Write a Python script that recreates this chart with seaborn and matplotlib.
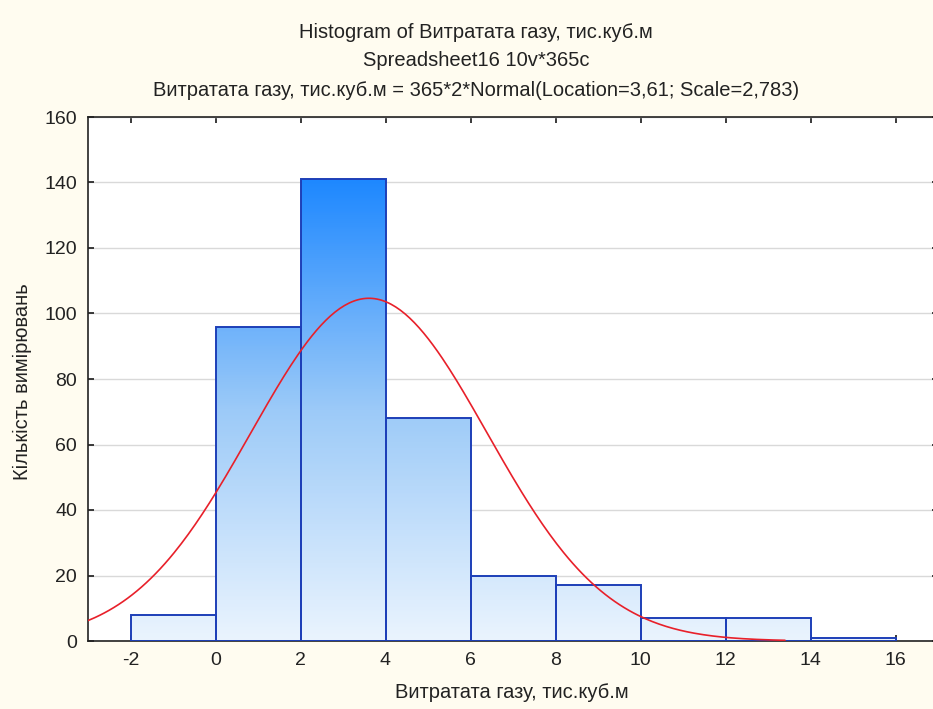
import numpy as np
import pandas as pd
import matplotlib
matplotlib.use("Agg")
import matplotlib.pyplot as plt
import seaborn as sns
from matplotlib.colors import LinearSegmentedColormap

# ── data ────────────────────────────────────────────────────────────────────
bin_edges = [-2, 0, 2, 4, 6, 8, 10, 12, 14, 16]
counts = [8, 96, 141, 68, 20, 17, 7, 7, 1]
n_obs = 365
bin_width = 2
location = 3.61
scale = 2.783
curve_span = (-3.0, 13.4)

title_lines = [
    "Histogram of Витратата газу, тис.куб.м",
    "Spreadsheet16 10v*365c",
    "Витратата газу, тис.куб.м = 365*2*Normal(Location=3,61; Scale=2,783)",
]
x_label = "Витратата газу, тис.куб.м"
y_label = "Кількість вимірювань"

sns.set_theme(style="white")
plt.rcParams["font.family"] = ["Liberation Sans", "DejaVu Sans"]
plt.rcParams["axes.unicode_minus"] = False

fig = plt.figure(figsize=(9.33, 7.09), dpi=100, facecolor="#fffcf0")
W, H = 933, 709
ax = fig.add_axes([88 / W, (H - 641) / H, 850 / W, (641 - 117) / H])
ax.set_facecolor("white")

centers = [(a + b) / 2 for a, b in zip(bin_edges[:-1], bin_edges[1:])]
df = pd.DataFrame({"x": centers, "n": counts})
sns.histplot(data=df, x="x", weights="n", bins=bin_edges, ax=ax,
             stat="count", element="bars", fill=True,
             facecolor="none", edgecolor="#1d3fb8", linewidth=1.4, zorder=3)

# gradient fill, common to all bars (by height on the axis)
cmap = LinearSegmentedColormap.from_list("g", ["#eaf4fe", "#9ccaf8", "#1e88ff"])
grad = np.linspace(0, 1, 256).reshape(-1, 1)
for p in ax.patches:
    im = ax.imshow(grad * 160 / 141, cmap=cmap, vmin=0, vmax=1, aspect="auto",
                   origin="lower", extent=[-3, 17, 0, 160], zorder=2)
    im.set_clip_path(p)
ax.set_xlim(-3, 17)
ax.set_ylim(0, 160)

# fitted normal curve as stated in the title
xs = np.linspace(curve_span[0], curve_span[1], 300)
ys = n_obs * bin_width * np.exp(-0.5 * ((xs - location) / scale) ** 2) / (scale * np.sqrt(2 * np.pi))
sns.lineplot(x=xs, y=ys, ax=ax, color="#e8202a", linewidth=1.2, zorder=4)

ax.set_xticks(range(-2, 17, 2))
ax.set_yticks(range(0, 161, 20))
ax.yaxis.grid(True, color="#d9d9d9", linewidth=1)
ax.set_axisbelow(True)
ax.tick_params(axis="both", labelsize=14, colors="#222222", length=4,
               direction="in", top=True, right=True, bottom=True, left=True, pad=8)
for s in ax.spines.values():
    s.set_color("#222222")
    s.set_linewidth(1.2)

ax.set_xlabel("")
ax.set_ylabel("")
fig.text(512 / W, 1 - 692 / H, x_label, ha="center", va="center", fontsize=14.5, color="#222222")
fig.text(22 / W, 1 - 382 / H, y_label, ha="center", va="center", rotation=90,
         fontsize=14.5, color="#222222")
for t, yp in zip(title_lines, [33, 61, 90]):
    fig.text(476 / W, 1 - yp / H, t, ha="center", va="center", fontsize=14.5, color="#222222")

fig.savefig("out.png", dpi=100, facecolor=fig.get_facecolor())
